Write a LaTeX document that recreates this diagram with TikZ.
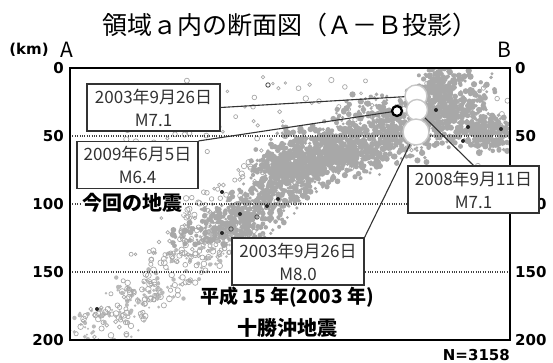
\documentclass[tikz,border=0pt]{standalone}
\usepackage{fontspec}
\setmainfont{Noto Sans CJK JP}
\newfontfamily\numfont{DejaVu Sans}
\definecolor{S}{RGB}{168,168,168}
\definecolor{T}{RGB}{50,50,50}
\tikzset{
  sismo/.style={fill=S},
  anillo/.style={draw=S, line width=0.7},
  negro/.style={fill=black!85},
  caja/.style={draw=T, line width=1.1, fill=white, text=T, align=center,
    minimum height=47, inner sep=0, font=\fontsize{17}{23}\selectfont},
  foco/.style={circle, draw=black!22, line width=1.4, fill=white, inner sep=0},
  eje/.style={font=\numfont\bfseries\fontsize{15}{15}\selectfont, inner sep=1},
  linea/.style={draw=black!80, line width=1.1},
  rotulo/.style={font=\bfseries\fontsize{19}{19}\selectfont, inner sep=1}
}

\begin{document}
\begin{tikzpicture}[x=1pt,y=-1pt]
   	\useasboundingbox (0,0) rectangle (553,363);

	%Titulo y extremos A y B
   	\node[font=\fontsize{25}{25}\selectfont] (titulo) at (290,25) {領域ａ内の断面図（Ａ－Ｂ投影）};
   	\node[font=\fontsize{21}{21}\selectfont, inner sep=0] (A) at (67,50) {A};
   	\node[font=\fontsize{21}{21}\selectfont, inner sep=0] (B) at (504,50) {B};
   	\node[eje] (km) at (29,50) {(km)};

	%Profundidades a ambos lados
   	\foreach \d in {0,50,100,150,200}{
   		\node[eje, anchor=east] (i\d) at (65,68+1.36*\d) {\d};
   		\node[eje, anchor=west] (d\d) at (514,68+1.36*\d) {\d};
   	}

	%Sismos (nube gris), recortados al marco
   	\begin{scope}
   		\clip (70,68) rectangle (510,340);
   		\pgfmathsetseed{2009}
   		%nube superior
   		\foreach \cx/\cy/\rx/\ry/\n in {325/152/48/20/450, 385/130/45/26/500,
   				447/108/36/30/450, 490/134/24/14/200, 440/86/12/15/100, 290/165/30/14/200}{
   			\foreach \k in {1,...,\n}{
   				\pgfmathsetmacro\px{\cx+\rx*(rand+rand)/1.4}
   				\pgfmathsetmacro\py{\cy+\ry*(rand+rand)/1.4}
   				\pgfmathsetmacro\pr{1.5+1.7*rnd}
   				\fill[sismo] (\px,\py) circle (\pr);
   			}
   		}
   		%placa que se hunde (parte densa)
   		\foreach \k in {1,...,850}{
   			\pgfmathsetmacro\t{0.5*rnd}
   			\pgfmathsetmacro\px{330-240*\t+36*(rand+rand)/1.4}
   			\pgfmathsetmacro\py{150+185*\t+6*rand}
   			\pgfmathsetmacro\pr{1.4+1.6*rnd}
   			\fill[sismo] (\px,\py) circle (\pr);
   		}
   		%placa que se hunde (parte rala)
   		\foreach \k in {1,...,170}{
   			\pgfmathsetmacro\t{0.45+0.55*rnd}
   			\pgfmathsetmacro\px{330-240*\t+34*(rand+rand)/1.4}
   			\pgfmathsetmacro\py{150+185*\t+6*rand}
   			\pgfmathsetmacro\pr{1.1+1.2*rnd}
   			\fill[S!80] (\px,\py) circle (\pr);
   			\pgfmathsetmacro\qx{330-240*\t+36*rand}
   			\draw[anillo] (\qx,\py+4*rand) circle (\pr+0.7);
   		}
   		%anillos sobre la placa
   		\foreach \k in {1,...,120}{
   			\pgfmathsetmacro\t{0.6*rnd}
   			\pgfmathsetmacro\px{300-240*\t+45*rand}
   			\pgfmathsetmacro\py{150+185*\t+8*rand}
   			\draw[anillo] (\px,\py) circle (1.4+1.4*rnd);
   		}
   		%sismos sueltos arriba
   		\foreach \k in {1,...,90}{
   			\pgfmathsetmacro\px{110+400*rnd}
   			\pgfmathsetmacro\py{74+95*rnd}
   			\draw[anillo] (\px,\py) circle (1.3+1.6*rnd);
   		}
   		%sismos en negro
   		\foreach \px/\py in {436/110, 468/127, 501/129, 463/141, 222/192, 278/199,
   				267/206, 222/233, 97/309, 240/214}{
   			\fill[negro] (\px,\py) circle (2);
   		}
   		\foreach \px/\py in {257/217, 231/229, 268/85}{
   			\draw[black!70, line width=0.8] (\px,\py) circle (2.2);
   		}
   	\end{scope}

	%Lineas punteadas a 50, 100 y 150 km
   	\foreach \d in {50,100,150}{
   		\draw[black!75, line width=1.1, dash pattern=on 1pt off 1.4pt] (70,68+1.36*\d) -- (510,68+1.36*\d);
   	}

	%Marco
   	\draw[line width=2.6] (70,68) rectangle (510,340);
   	\node[eje, anchor=east] (n) at (511,355) {N=3158};

	%Textos
   	\node[rotulo, fill=white, font=\bfseries\fontsize{20}{20}\selectfont] (hoy) at (132,203) {今回の地震};
   	\node[rotulo] (heisei) at (287,297) {平成 15 年(2003 年)};
   	\node[rotulo, font=\bfseries\fontsize{20}{20}\selectfont] (tokachi) at (287,328) {十勝沖地震};

	%Cajas de los sismos grandes
   	\node[caja, minimum width=133] (caja1) at (153.5,107.5) {2003年9月26日\\M7.1};
   	\node[caja, minimum width=121] (caja2) at (137.5,165) {2009年6月5日\\M6.4};
   	\node[caja, minimum width=131] (caja3) at (473.5,189.5) {2008年9月11日\\M7.1};
   	\node[caja, minimum width=132] (caja4) at (298,261.5) {2003年9月26日\\M8.0};

	%Focos (circulos blancos) y sismo de hoy
   	\node[foco, minimum size=22] (c1) at (416,96) {};
   	\node[foco, minimum size=21] (c2) at (417,110) {};
   	\node[foco, minimum size=26] (c3) at (416,132) {};
   	\node[circle, draw=black, line width=2.3, fill=white, inner sep=0, minimum size=10] (ev) at (397,111) {};

	%Lineas de las cajas a los focos
   	\draw[linea] (caja1.east) -- (c1);
   	\draw[linea] (caja2.north east) -- (ev);
   	\draw[linea] (c2) -- (caja3.north);
   	\draw[linea] (c3) -- (caja4.north east);
 \end{tikzpicture}
\end{document}
